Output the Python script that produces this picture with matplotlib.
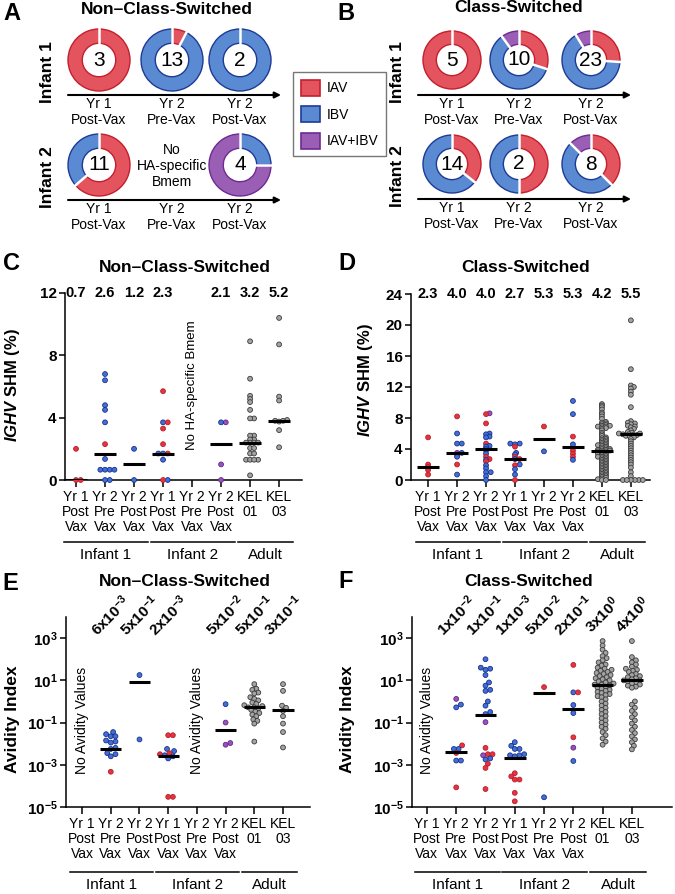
import numpy as np
import matplotlib
matplotlib.use('Agg')
import matplotlib.pyplot as plt
from matplotlib.patches import Patch
from matplotlib.transforms import blended_transform_factory
from matplotlib.ticker import FixedLocator, FuncFormatter, NullLocator

plt.rcParams['font.family'] = ['Liberation Sans', 'DejaVu Sans']
plt.rcParams['mathtext.fontset'] = 'custom'
plt.rcParams['mathtext.rm'] = 'Liberation Sans'
plt.rcParams['mathtext.it'] = 'Liberation Sans:italic'
plt.rcParams['mathtext.bf'] = 'Liberation Sans:bold'
plt.rcParams['mathtext.bfit'] = 'Liberation Sans:bold:italic'
plt.rcParams['axes.linewidth'] = 1.1

# ---------------- data ----------------
timepoints = ['Yr 1\nPost-Vax', 'Yr 2\nPre-Vax', 'Yr 2\nPost-Vax']
infants = ['Infant 1', 'Infant 2']
specs = ['IAV', 'IBV', 'IAV+IBV']
# number of HA-specific Bmem per specificity (IAV, IBV, IAV+IBV)
donut_ncs = [[(3, 0, 0), (1, 12, 0), (0, 2, 0)],
             [(7, 4, 0), None, (0, 1, 3)]]
donut_cs = [[(5, 0, 0), (3, 6, 1), (6, 15, 2)],
            [(5, 9, 0), (1, 1, 0), (3, 4, 1)]]

cats = ['Yr 1\nPost\nVax', 'Yr 2\nPre\nVax', 'Yr 2\nPost\nVax',
        'Yr 1\nPost\nVax', 'Yr 2\nPre\nVax', 'Yr 2\nPost\nVax',
        'KEL\n01', 'KEL\n03']
groups = ['Infant 1', 'Infant 2', 'Adult']
group_cats = [(1, 3), (4, 6), (7, 8)]

# C: SHM, non-class-switched  (r=IAV, b=IBV, p=IAV+IBV, g=adult)
shm_ncs = [
    [2.0, 0, 0],
    [6.8, 6.4, 4.8, 4.5, 3.7, 2.3, 1.35, 0.66, 0.66, 0.66, 0.66, 0, 0],
    [2.0, 0],
    [5.7, 3.7, 3.7, 3.3, 2.3, 1.7, 1.7, 1.7, 1.3, 0, 0],
    [],
    [3.7, 3.7, 1.0, 0],
    [8.9, 6.5, 5.4, 5.2, 5.0, 4.5, 3.95, 3.95, 2.85, 2.85, 2.6, 2.6, 2.4,
     2.4, 2.4, 2.4, 2.05, 2.05, 1.7, 1.7, 1.3, 1.3, 1.3, 1.3, 0.3],
    [10.4, 8.7, 5.35, 5.1, 3.85, 3.8, 3.8, 3.75, 3.2, 2.1],
]
shm_ncs_kind = ['rrr', 'bbbbbrbbbbbbb', 'bb', 'rbrrrrbbbbr', '', 'pbpp',
                'g' * 25, 'g' * 10]
shm_ncs_med = [0, 1.7, 1.0, 1.7, None, 2.3, 2.4, 3.8]
shm_ncs_mean = ['0.7', '2.6', '1.2', '2.3', '', '2.1', '3.2', '5.2']

# D: SHM, class-switched
kel01_cs = [9.8, 9.6, 9.4, 9.1, 8.7, 8.5, 8.2, 7.9, 7.5, 7.4, 7.3, 7.2, 7.1,
            7.0, 7.0, 6.9, 6.9, 6.8, 6.7, 6.6, 6.4, 6.1, 5.9, 5.7, 5.5, 5.4,
            5.3, 5.2, 5.1, 5.0, 4.9, 4.8, 4.7, 4.6, 4.5, 4.5, 4.4, 4.3, 4.2,
            4.1, 4.0, 4.0, 3.9, 3.9, 3.8, 3.8, 3.7, 3.7, 3.6, 3.5, 3.4, 3.4,
            3.3, 3.2, 3.1, 3.0, 3.0, 2.9, 2.8, 2.7, 2.6, 2.5, 2.4, 2.3, 2.2,
            2.1, 2.0, 1.9, 1.8, 1.7, 1.6, 1.5, 1.4, 1.3, 1.2, 1.1, 1.0, 0.9,
            0.8, 0.7, 0.6, 0.5, 0.4, 0.3, 0.2, 0.1, 0.0, 0.0]
kel03_cs = [20.6, 14.3, 12.2, 12.0, 11.8, 11.4, 11.0, 9.4, 7.6, 7.4, 7.3,
            7.2, 7.0, 6.9, 6.8, 6.6, 6.4, 6.2, 6.1, 6.0, 6.0, 5.9, 5.9, 5.8,
            5.8, 5.7, 5.6, 5.5, 5.3, 5.0, 4.7, 4.4, 4.1, 3.8, 3.5, 3.2, 2.9,
            2.6, 2.3, 2.0, 1.6, 1.0, 0.5, 0, 0, 0, 0, 0, 0]
shm_cs = [
    [5.5, 2.0, 1.7, 1.3, 0.7],
    [8.2, 6.0, 4.7, 4.7, 3.5, 3.5, 3.2, 3.0, 2.0, 0.7],
    [8.6, 8.5, 7.3, 6.0, 5.9, 5.6, 5.5, 4.7, 4.4, 4.3, 4.0, 3.8, 3.4, 3.0,
     2.7, 2.6, 2.4, 1.9, 1.5, 1.0, 1.0, 0.5, 0],
    [4.7, 4.7, 4.6, 4.3, 3.5, 3.3, 3.0, 2.7, 2.7, 2.0, 1.9, 1.4, 0.7, 0],
    [6.9, 3.7],
    [10.2, 8.5, 5.6, 4.6, 3.8, 3.4, 3.0, 2.6],
    kel01_cs,
    kel03_cs,
]
shm_cs_kind = ['rrrrr', 'rbbbpbrbrb', 'prrbbbbrbbbbbrrbrbbbbbb',
               'bbbrbbrbrbrbbr', 'rb', 'bbrbrrrb',
               'g' * len(kel01_cs), 'g' * len(kel03_cs)]
shm_cs_med = [1.7, 3.5, 4.0, 2.7, 5.3, 4.2, 3.8, 5.9]
shm_cs_mean = ['2.3', '4.0', '4.0', '2.7', '5.3', '5.3', '4.2', '5.5']

# E: avidity index (log10), non-class-switched
avid_ncs_log = [
    [],
    [-1.45, -1.55, -1.65, -1.65, -1.85, -1.9, -1.95, -2.2, -2.25, -2.45,
     -2.5, -2.6, -3.33],
    [1.25, -1.8],
    [-1.6, -1.6, -2.25, -2.35, -2.45, -2.5, -2.55, -2.6, -2.7, -4.52, -4.52],
    [],
    [-0.13, -1.0, -1.97, -2.05],
    [0.82, 0.6, 0.55, 0.42, 0.38, 0.2, 0.12, 0.05, -0.05, -0.12, -0.18,
     -0.22, -0.28, -0.28, -0.33, -0.4, -0.48, -0.55, -0.62, -0.7, -0.85,
     -0.92, -1.05, -1.9],
    [0.82, 0.5, -0.2, -0.3, -0.45, -0.7, -1.05, -1.45, -2.18],
]
avid_ncs_kind = ['', 'b' * 12 + 'r', 'bb', 'rrbbrrbbbrr', '', 'bppp',
                 'g' * 24, 'g' * 9]
avid_ncs_med = [None, -2.23, 0.9, -2.57, None, -1.33, -0.28, -0.42]
avid_ncs_mean = ['', '6x10^{-3}', '5x10^{-1}', '2x10^{-3}', '',
                 '5x10^{-2}', '5x10^{-1}', '3x10^{-1}']

# F: avidity index (log10), class-switched
kel01_av = [2.86, 2.65, 2.45, 2.3, 2.15, 2.05, 1.95, 1.85, 1.75, 1.7, 1.6,
            1.55, 1.5, 1.45, 1.4, 1.35, 1.3, 1.25, 1.2, 1.15, 1.1, 1.05, 1.0,
            0.95, 0.9, 0.85, 0.8, 0.8, 0.75, 0.7, 0.65, 0.6, 0.55, 0.5, 0.45,
            0.4, 0.35, 0.3, 0.25, 0.2, 0.1, 0.0, -0.1, -0.2, -0.3, -0.4,
            -0.5, -0.6, -0.7, -0.8, -0.9, -1.0, -1.1, -1.2, -1.3, -1.45,
            -1.6, -1.75, -1.9, -2.05]
kel03_av = [2.86, 2.1, 1.95, 1.85, 1.75, 1.65, 1.55, 1.5, 1.45, 1.4, 1.3,
            1.25, 1.2, 1.15, 1.1, 1.05, 1.0, 1.0, 0.95, 0.9, 0.85, 0.8, 0.75,
            0.7, 0.65, 0.0, -0.15, -0.3, -0.45, -0.6, -0.75, -0.9, -1.05,
            -1.2, -1.35, -1.5, -1.65, -1.8, -1.93, -2.1, -2.27]
avid_cs_log = [
    [],
    [0.12, -0.15, -0.28, -2.08, -2.25, -2.25, -2.44, -2.8, -2.8, -4.07],
    [2.0, 1.6, 1.55, 1.5, 1.25, 0.9, 0.75, 0.55, 0.5, 0.0, -0.2, -0.5, -0.6,
     -0.98, -2.2, -2.5, -2.5, -2.55, -2.7, -2.75, -2.95, -3.15, -4.15],
    [-1.93, -2.1, -2.25, -2.25, -2.5, -2.55, -2.55, -2.6, -3.4, -3.55, -3.7,
     -3.7, -4.33, -4.73],
    [0.68, -4.54],
    [1.73, 0.43, 0.43, -0.17, -0.55, -1.7, -2.19, -2.82],
    kel01_av,
    kel03_av,
]
avid_cs_kind = ['', 'pbbrbbrbbr', 'b' * 13 + 'prrrpbbrrr', 'b' * 8 + 'r' * 6,
                'rb', 'rbrbbrpb', 'g' * len(kel01_av), 'g' * len(kel03_av)]
avid_cs_med = [None, -2.38, -0.65, -2.66, 0.4, -0.36, 0.79, 1.0]
avid_cs_mean = ['', '1x10^{-2}', '1x10^{-1}', '1x10^{-3}', '5x10^{-2}',
                '2x10^{-1}', '3x10^{0}', '4x10^{0}']

# ---------------- style ----------------
W, H = 675, 894
ring_fc = ['#E4545F', '#5A8BD2', '#9A5FB5']
ring_ec = ['#C41E2C', '#1E3A96', '#6E2A92']
dot_fc = {'r': '#E8323F', 'b': '#3F70DA', 'p': '#9B4FC2', 'g': '#A3A3A3'}
dot_ec = {'r': '#B5202C', 'b': '#1B2E86', 'p': '#5E2A80', 'g': '#3A3A3A'}

fig = plt.figure(figsize=(W / 100, H / 100), dpi=100)
ov = fig.add_axes([0, 0, 1, 1])
ov.set_xlim(0, W)
ov.set_ylim(H, 0)
ov.axis('off')


def donut(cx, cy, r, parts):
    pad = 1.06
    ax = fig.add_axes([(cx - r * pad) / W, 1 - (cy + r * pad) / H,
                       2 * r * pad / W, 2 * r * pad / H])
    idx = [i for i, p in enumerate(parts) if p > 0]
    vals = [parts[i] for i in idx]
    wedges, _ = ax.pie(vals, colors=[ring_fc[i] for i in idx], startangle=90,
                       counterclock=False,
                       wedgeprops=dict(width=0.46, linewidth=1.0))
    for w, i in zip(wedges, idx):
        w.set_edgecolor(ring_ec[i])
    ang = 90.0
    for v in vals:
        a = np.deg2rad(ang)
        ax.plot([0.5 * np.cos(a), 1.04 * np.cos(a)],
                [0.5 * np.sin(a), 1.04 * np.sin(a)], color='white', lw=1.8)
        ang -= 360.0 * v / sum(vals)
    ax.text(0, 0, str(sum(parts)), ha='center', va='center', fontsize=15)
    ax.set_xlim(-pad, pad)
    ax.set_ylim(-pad, pad)
    ax.axis('off')


def donut_panel(data, xs, ys, r, x0, x1, lab_x):
    for row, y in enumerate(ys):
        for col, x in enumerate(xs):
            if data[row][col] is None:
                ov.text(x, y + 1, 'No\nHA-specific\nBmem', ha='center',
                        va='center', fontsize=10, linespacing=1.15)
            else:
                donut(x, y, r, data[row][col])
            ov.text(x, y + 37, timepoints[col], ha='center', va='top',
                    fontsize=10, linespacing=1.15)
        ov.annotate('', xy=(x1, y + 35), xytext=(x0, y + 35),
                    arrowprops=dict(arrowstyle='-|>', lw=1.5, color='black',
                                    mutation_scale=9, shrinkA=0, shrinkB=0))
        ov.text(lab_x, y + 12, infants[row], rotation=90, ha='center',
                va='center', fontsize=12.5, fontweight='bold')


donut_panel(donut_ncs, [99, 172, 240], [60, 165], 31, 68, 281, 47)
donut_panel(donut_cs, [452, 519, 591], [60, 164], 29, 418, 631, 398)

fig.legend([Patch(facecolor=ring_fc[i], edgecolor=ring_ec[i], lw=1.2)
            for i in range(3)], specs, loc='upper left',
           bbox_to_anchor=(293 / W, 1 - 72 / H), fontsize=10, frameon=True,
           fancybox=False, edgecolor='#555555', handlelength=1.4,
           handleheight=1.4, labelspacing=0.75, handletextpad=0.45,
           borderpad=0.55, borderaxespad=0)

for lab, x, y in [('A', 3, 14), ('B', 337, 13), ('C', 3, 263), ('D', 338, 263),
                  ('E', 2, 583), ('F', 338, 582)]:
    ov.text(x, y, lab, ha='left', va='center', fontsize=17, fontweight='bold')
for t, x, y in [('Non–Class-Switched', 167, 10), ('Class-Switched', 519, 8),
                ('Non–Class-Switched', 185, 267), ('Class-Switched', 526, 267),
                ('Non–Class-Switched', 185, 582), ('Class-Switched', 529, 582)]:
    ov.text(x, y, t, ha='center', va='center', fontsize=12.5,
            fontweight='bold')


def swarm(ax, xc, yv, d):
    pts = ax.transData.transform(np.column_stack([np.full(len(yv), float(xc)), yv]))
    cand = [0.0]
    for k in range(1, 80):
        cand += [k * d / 4, -k * d / 4]
    placed = []
    xs = np.zeros(len(yv))
    for i in np.argsort(pts[:, 1]):
        px, py = pts[i]
        for off in cand:
            if all((px + off - qx) ** 2 + (py - qy) ** 2 >= d * d * 0.95
                   for qx, qy in placed):
                break
        placed.append((px + off, py))
        xs[i] = ax.transData.inverted().transform((px + off, py))[0]
    return xs


def scatter_panel(rect, xlim, vals, kinds, meds, means, log, gy):
    ax = fig.add_axes([rect[0] / W, 1 - rect[3] / H, (rect[2] - rect[0]) / W,
                       (rect[3] - rect[1]) / H])
    ax.patch.set_alpha(0)
    ax.set_xlim(*xlim)
    for s in ['top', 'right']:
        ax.spines[s].set_visible(False)
    ax.set_xticks(range(1, 9))
    ax.set_xticklabels(cats, fontsize=10, linespacing=1.12)
    ax.tick_params(axis='x', length=5, width=1.1, pad=2)
    ax.tick_params(axis='y', length=4, width=1.1, labelsize=11, pad=2)
    if log:
        ax.set_yscale('log')
        ax.set_ylim(1e-5, 1e4)
        ax.yaxis.set_major_locator(FixedLocator([1e-5, 1e-3, 1e-1, 1e1, 1e3]))
        ax.yaxis.set_minor_locator(NullLocator())
        ax.yaxis.set_major_formatter(FuncFormatter(
            lambda v, p: r'$\mathbf{10^{%d}}$' % round(np.log10(v))))
    tr = blended_transform_factory(ax.transData, ax.transAxes)
    for i, (v, k) in enumerate(zip(vals, kinds)):
        x = i + 1
        if len(v):
            y = 10.0 ** np.array(v) if log else np.array(v, float)
            xs = swarm(ax, x, y, 4.0 if k[0] == 'g' else 4.7)
            ax.scatter(xs, y, s=12, c=[dot_fc[c] for c in k],
                       edgecolors=[dot_ec[c] for c in k], linewidths=0.6,
                       zorder=3, clip_on=False)
        if meds[i] is not None:
            m = 10.0 ** meds[i] if log else meds[i]
            ax.plot([x - 0.37, x + 0.37], [m, m], color='black', lw=2.2,
                    zorder=4, solid_capstyle='butt')
        if means[i]:
            if log:
                ax.text(x, 1.01, r'$\mathbf{%s}$' % means[i], transform=tr,
                        rotation=45, rotation_mode='anchor', ha='center',
                        va='center', fontsize=11)
            else:
                ax.text(x, 1.0, means[i], transform=tr, ha='center',
                        va='center', fontsize=10.5, fontweight='bold')
    for g, (a, b) in zip(groups, group_cats):
        ax.plot([a - 0.42, b + 0.48], [gy, gy], color='black', lw=1.1,
                transform=tr, clip_on=False)
        ax.text((a + b) / 2 + 0.03, gy - 0.07, g, transform=tr, ha='center',
                va='center', fontsize=11)
    return ax, tr


axC, trC = scatter_panel((65, 293, 302, 480), (0.62, 8.79), shm_ncs,
                         shm_ncs_kind, shm_ncs_med, shm_ncs_mean, False, -0.332)
axC.set_ylim(0, 12)
axC.set_yticks([0, 4, 8, 12])
for t in axC.get_yticklabels():
    t.set_fontweight('bold')
axC.text(5, 6.1, 'No HA-specific Bmem', rotation=90, ha='center',
         va='center', fontsize=9.5)
axC.set_ylabel(r'$\mathbfit{IGHV}$ SHM (%)', fontsize=12, fontweight='bold')
axC.yaxis.set_label_coords(-0.18, 0.51)

axD, trD = scatter_panel((411, 294, 650, 480), (0.41, 8.66), shm_cs,
                         shm_cs_kind, shm_cs_med, shm_cs_mean, False, -0.332)
axD.set_ylim(0, 24)
axD.set_yticks([0, 4, 8, 12, 16, 20, 24])
for t in axD.get_yticklabels():
    t.set_fontweight('bold')
axD.set_ylabel(r'$\mathbfit{IGHV}$ SHM (%)', fontsize=12, fontweight='bold')
axD.yaxis.set_label_coords(-0.15, 0.54)

axE, trE = scatter_panel((66, 617, 310, 807), (0.44, 8.94), avid_ncs_log,
                         avid_ncs_kind, avid_ncs_med, avid_ncs_mean, True, -0.342)
for x in [1, 5]:
    axE.text(x, 10 ** -0.9, 'No Avidity Values', rotation=90, ha='center',
             va='center', fontsize=10)
axE.set_ylabel('Avidity Index', fontsize=12.5, fontweight='bold')
axE.yaxis.set_label_coords(-0.19, 0.46)

axF, trF = scatter_panel((412, 617, 672, 807), (0.49, 9.37), avid_cs_log,
                         avid_cs_kind, avid_cs_med, avid_cs_mean, True, -0.342)
axF.text(1, 10 ** -0.9, 'No Avidity Values', rotation=90, ha='center',
         va='center', fontsize=10)
axF.set_ylabel('Avidity Index', fontsize=12.5, fontweight='bold')
axF.yaxis.set_label_coords(-0.22, 0.46)

fig.savefig('out.png', dpi=100)
